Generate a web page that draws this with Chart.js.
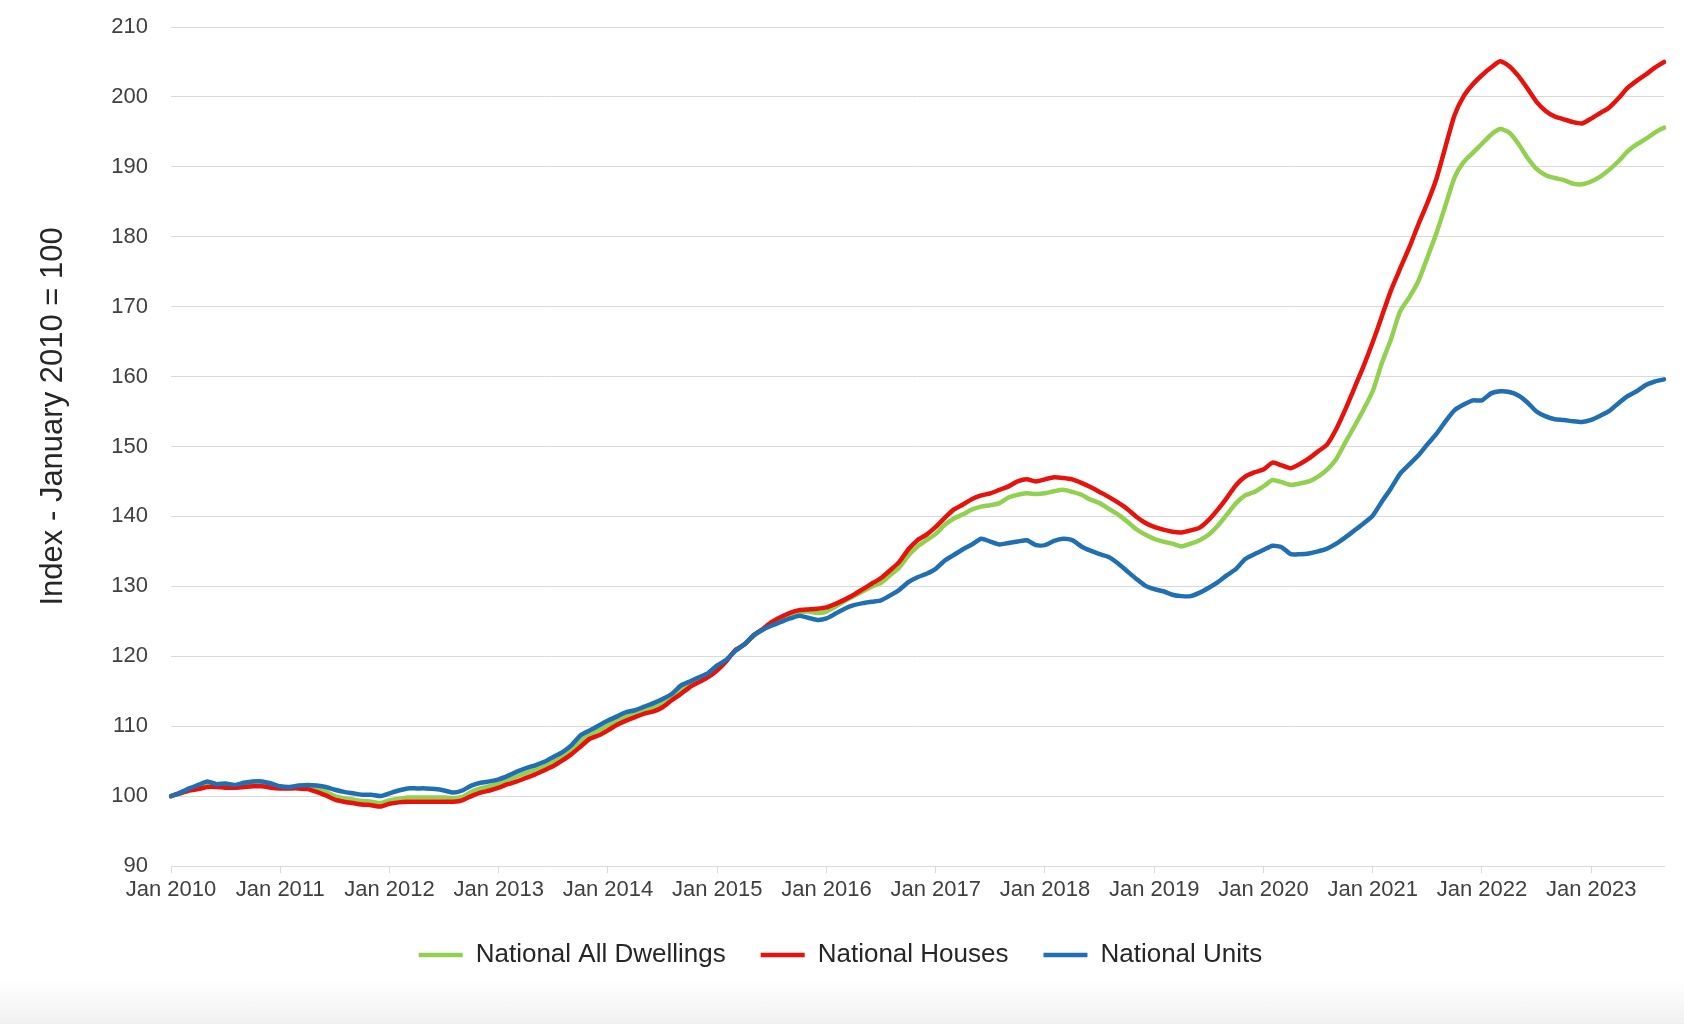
<!DOCTYPE html>
<html>
<head>
<meta charset="utf-8">
<title>National dwelling value index</title>
<script src="https://cdn.jsdelivr.net/npm/chart.js@4.4.1/dist/chart.umd.min.js"></script>
<style>
    html, body { margin: 0; padding: 0; }
    body {
        width: 1684px; height: 1024px; overflow: hidden;
        background: linear-gradient(to bottom, #ffffff 0px, #ffffff 978px, #f1f1f1 1024px);
    }
    #wrap { position: relative; width: 1684px; height: 1024px; }
</style>
</head>
<body>
<div id="wrap"><canvas id="myChart"></canvas></div>
<script>
// monthly, Jan 2010 .. Sep 2023
var years = [2010, 2011, 2012, 2013, 2014, 2015, 2016, 2017, 2018, 2019, 2020, 2021, 2022, 2023];
var monthNames = ['Jan', 'Feb', 'Mar', 'Apr', 'May', 'Jun', 'Jul', 'Aug', 'Sep', 'Oct', 'Nov', 'Dec'];
var yearTicks = ['Jan 2010', 'Jan 2011', 'Jan 2012', 'Jan 2013', 'Jan 2014', 'Jan 2015', 'Jan 2016',
    'Jan 2017', 'Jan 2018', 'Jan 2019', 'Jan 2020', 'Jan 2021', 'Jan 2022', 'Jan 2023'];
var lastMonth = 'Sep 2023';

var allDwellings = [
    100.0, 100.4, 100.9, 101.2, 101.6, 101.4, 101.4, 101.3, 101.5, 101.6, 101.6, 101.4,
    101.2, 101.2, 101.2, 101.2, 101.0, 100.6, 100.0, 99.7, 99.5, 99.3, 99.2, 99.0,
    99.4, 99.6, 99.8, 99.8, 99.8, 99.8, 99.8, 99.7, 99.9, 100.6, 101.1, 101.4,
    101.8, 102.3, 102.8, 103.3, 103.8, 104.3, 104.9, 105.7, 106.7, 107.9, 108.8, 109.4,
    110.1, 110.8, 111.4, 111.8, 112.3, 112.7, 113.3, 114.2, 115.2, 116.0, 116.7, 117.3,
    118.4, 119.4, 120.8, 121.7, 122.9, 123.8, 124.8, 125.5, 126.0, 126.3, 126.4, 126.2,
    126.4, 127.1, 127.9, 128.6, 129.3, 130.0, 130.5, 131.6, 132.7, 134.4, 135.7, 136.6,
    137.5, 138.8, 139.7, 140.3, 141.0, 141.4, 141.6, 141.9, 142.7, 143.1, 143.3, 143.2,
    143.3, 143.6, 143.8, 143.5, 143.1, 142.4, 141.9, 141.1, 140.3, 139.3, 138.2, 137.4,
    136.8, 136.4, 136.1, 135.7, 136.1, 136.6, 137.4, 138.7, 140.3, 141.9, 143.0, 143.5,
    144.3, 145.2, 144.9, 144.5, 144.7, 145.0, 145.7, 146.7, 148.2, 150.6, 152.9, 155.3,
    157.9, 161.9, 165.3, 169.3, 171.3, 173.6, 177.0, 180.5, 184.5, 188.5, 190.7, 192.0,
    193.3, 194.6, 195.4, 194.9, 193.3, 191.3, 189.7, 188.8, 188.4, 188.1, 187.6, 187.5,
    187.9, 188.6, 189.6, 190.8, 192.2, 193.2, 194.0, 194.9, 195.6
];

var houses = [
    100.0, 100.4, 100.8, 101.0, 101.3, 101.3, 101.2, 101.2, 101.3, 101.4, 101.4, 101.2,
    101.1, 101.1, 101.1, 101.0, 100.6, 100.1, 99.5, 99.2, 99.0, 98.8, 98.7, 98.5,
    98.9, 99.1, 99.2, 99.2, 99.2, 99.2, 99.2, 99.2, 99.4, 100.0, 100.5, 100.8,
    101.2, 101.7, 102.1, 102.6, 103.1, 103.7, 104.3, 105.1, 106.0, 107.1, 108.2, 108.7,
    109.4, 110.2, 110.8, 111.3, 111.8, 112.1, 112.7, 113.7, 114.6, 115.6, 116.3, 117.0,
    118.0, 119.3, 120.9, 121.7, 123.0, 123.9, 124.9, 125.6, 126.2, 126.6, 126.7, 126.8,
    127.0, 127.5, 128.1, 128.8, 129.6, 130.4, 131.2, 132.3, 133.5, 135.3, 136.6, 137.4,
    138.5, 139.8, 141.0, 141.7, 142.5, 143.0, 143.3, 143.8, 144.3, 145.0, 145.3, 145.0,
    145.3, 145.6, 145.5, 145.3, 144.8, 144.2, 143.5, 142.8, 142.0, 141.1, 140.0, 139.1,
    138.5, 138.1, 137.8, 137.7, 138.0, 138.4, 139.5, 141.0, 142.7, 144.5, 145.7, 146.3,
    146.7, 147.7, 147.3, 146.9, 147.5, 148.3, 149.3, 150.3, 152.5, 155.3, 158.4, 161.5,
    164.9, 168.6, 172.3, 175.4, 178.4, 181.7, 184.8, 188.3, 192.9, 197.4, 200.1, 201.8,
    203.1, 204.2, 205.1, 204.4, 203.0, 201.2, 199.3, 198.0, 197.2, 196.8, 196.4, 196.2,
    196.9, 197.7, 198.5, 199.8, 201.3, 202.3, 203.2, 204.2, 205.0
];

var units = [
    100.0, 100.5, 101.1, 101.6, 102.1, 101.7, 101.8, 101.6, 101.9, 102.1, 102.1, 101.8,
    101.4, 101.3, 101.5, 101.6, 101.5, 101.3, 100.9, 100.6, 100.4, 100.2, 100.2, 100.0,
    100.4, 100.8, 101.1, 101.1, 101.1, 101.0, 100.8, 100.5, 100.8, 101.5, 101.9, 102.1,
    102.4, 102.9, 103.5, 104.0, 104.4, 104.9, 105.6, 106.3, 107.3, 108.7, 109.4, 110.1,
    110.8, 111.4, 112.0, 112.3, 112.8, 113.3, 113.9, 114.6, 115.8, 116.4, 117.0, 117.6,
    118.7, 119.5, 120.8, 121.7, 123.0, 123.8, 124.4, 124.9, 125.4, 125.8, 125.5, 125.2,
    125.4, 126.1, 126.8, 127.3, 127.6, 127.8, 128.0, 128.7, 129.5, 130.6, 131.3, 131.8,
    132.5, 133.7, 134.5, 135.3, 136.0, 136.8, 136.4, 136.0, 136.2, 136.4, 136.6, 135.9,
    135.9, 136.5, 136.8, 136.6, 135.7, 135.1, 134.6, 134.2, 133.3, 132.2, 131.1, 130.1,
    129.6, 129.3, 128.8, 128.6, 128.6, 129.1, 129.8, 130.6, 131.6, 132.5, 133.9, 134.6,
    135.2, 135.8, 135.6, 134.6, 134.6, 134.7, 135.0, 135.4, 136.1, 137.0, 138.0, 139.0,
    140.1, 142.1, 144.0, 146.1, 147.4, 148.7, 150.3, 151.8, 153.6, 155.2, 156.0, 156.6,
    156.6, 157.6, 157.9, 157.8, 157.3, 156.3, 155.0, 154.3, 153.9, 153.8, 153.6, 153.5,
    153.8, 154.4, 155.1, 156.2, 157.2, 157.9, 158.8, 159.3, 159.6
];

// category labels, one per month
var months = [];
years.forEach(function (y) {
    monthNames.forEach(function (m) {
        if (months.length === 0 || months[months.length - 1] !== lastMonth) {
            months.push(m + ' ' + y);
        }
    });
});

var gridGray = '#d9d9d9';
var textGray = '#404040';
var fontFamily = "'Liberation Sans', Arial, sans-serif";

const ctx = document.getElementById('myChart');

new Chart(ctx, {
    type: 'line',
    data: {
        labels: months,
        datasets: [{
            label: 'National All Dwellings',
            data: allDwellings,
            borderColor: '#92d050',
            backgroundColor: '#92d050',
            borderWidth: 4.5,
            order: 3
        }, {
            label: 'National Houses',
            data: houses,
            borderColor: '#e8120c',
            backgroundColor: '#e8120c',
            borderWidth: 4.5,
            order: 2
        }, {
            label: 'National Units',
            data: units,
            borderColor: '#1f6fb2',
            backgroundColor: '#1f6fb2',
            borderWidth: 4.5,
            order: 1
        }]
    },
    options: {
        responsive: true,
        maintainAspectRatio: false,
        devicePixelRatio: 1,
        animation: false,
        layout: {
            padding: { left: 17, right: 20, top: 27, bottom: 46 }
        },
        elements: {
            point: { radius: 0, hoverRadius: 0 },
            line: { tension: 0.2, borderCapStyle: 'round', borderJoinStyle: 'round' }
        },
        plugins: {
            tooltip: { enabled: false },
            legend: {
                position: 'bottom',
                labels: {
                    usePointStyle: true,
                    pointStyle: 'line',
                    pointStyleWidth: 44,
                    boxHeight: 26,
                    padding: 35,
                    color: '#262626',
                    font: { family: fontFamily, size: 26 },
                    sort: function (a, b) { return a.datasetIndex - b.datasetIndex; }
                }
            }
        },
        scales: {
            x: {
                grid: {
                    drawOnChartArea: false,
                    drawTicks: true,
                    tickLength: 7,
                    color: function (c) {
                        return c.tick && yearTicks.indexOf(months[c.tick.value]) !== -1 ? gridGray : 'rgba(0,0,0,0)';
                    }
                },
                border: { display: true, color: gridGray, width: 1 },
                ticks: {
                    autoSkip: false,
                    maxRotation: 0,
                    minRotation: 0,
                    padding: 4,
                    color: textGray,
                    font: { family: fontFamily, size: 22 },
                    callback: function (value) {
                        var lbl = this.getLabelForValue(value);
                        return yearTicks.indexOf(lbl) !== -1 ? lbl : '';
                    }
                },
                afterFit: function (scale) { scale.height = 41; }
            },
            y: {
                min: 90,
                max: 210,
                grid: { color: gridGray, drawTicks: false },
                border: { display: false },
                ticks: {
                    stepSize: 10,
                    padding: 23,
                    color: textGray,
                    font: { family: fontFamily, size: 22 }
                },
                title: {
                    display: true,
                    // leading spaces lift the title a little above the axis centre, as in the original
                    text: '       Index - January 2010 = 100',
                    color: '#262626',
                    font: { family: fontFamily, size: 31 },
                    padding: { top: 18, bottom: 0 }
                },
                afterFit: function (scale) {
                    scale.width = 171 - 17;
                    scale.paddingTop = 0;
                    scale.paddingBottom = 0;
                }
            }
        }
    }
});
</script>
</body>
</html>
